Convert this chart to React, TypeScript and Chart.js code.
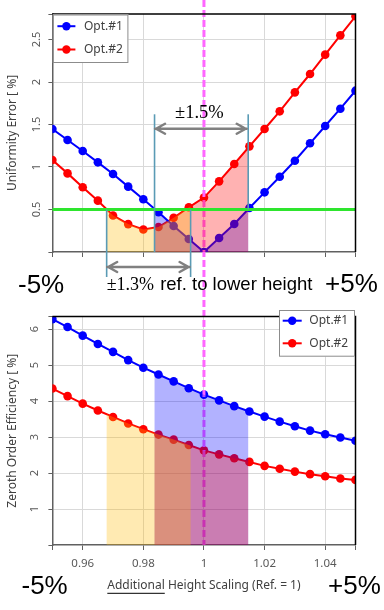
import React, { useEffect, useRef } from 'react';
import { Chart, registerables } from 'chart.js';

Chart.register(...registerables);

// ---------------- data ----------------
const xValues = [0.95, 0.955, 0.96, 0.965, 0.97, 0.975, 0.98, 0.985, 0.99, 0.995, 1.0, 1.005, 1.01, 1.015, 1.02, 1.025, 1.03, 1.035, 1.04, 1.045, 1.05];
const seriesLabels = ['Opt.#1', 'Opt.#2'];
const uniformityOpt1 = [1.447, 1.318, 1.188, 1.055, 0.918, 0.769, 0.62, 0.467, 0.306, 0.153, 0.0, 0.165, 0.329, 0.518, 0.702, 0.886, 1.074, 1.279, 1.482, 1.686, 1.898];
const uniformityOpt2 = [1.082, 0.925, 0.761, 0.604, 0.43, 0.328, 0.265, 0.294, 0.402, 0.526, 0.64, 0.831, 1.035, 1.243, 1.447, 1.655, 1.878, 2.094, 2.322, 2.549, 2.773];
const efficiencyOpt1 = [6.28, 6.06, 5.82, 5.59, 5.37, 5.14, 4.93, 4.74, 4.55, 4.36, 4.18, 4.02, 3.86, 3.71, 3.57, 3.43, 3.3, 3.18, 3.08, 2.99, 2.9];
const efficiencyOpt2 = [4.35, 4.14, 3.93, 3.74, 3.56, 3.38, 3.22, 3.07, 2.93, 2.78, 2.63, 2.52, 2.41, 2.31, 2.2, 2.12, 2.04, 1.97, 1.91, 1.85, 1.81];

const xRange = [0.95, 1.05];
const xTickValues = [0.96, 0.98, 1, 1.02, 1.04];
const xTickLabels = ['0.96', '0.98', '1', '1.02', '1.04'];
const uniformityRange = [0, 2.8];
const uniformityTickValues = [0.5, 1, 1.5, 2, 2.5];
const uniformityTickLabels = ['0.5', '1', '1.5', '2', '2.5'];
const efficiencyRange = [0, 6.35];
const efficiencyTickValues = [1, 2, 3, 4, 5, 6];
const efficiencyTickLabels = ['1', '2', '3', '4', '5', '6'];

const thresholdValue = 0.5;
const referenceValue = 1.0;
const rangeOpt1 = [0.9837, 1.0146]; // ±1.5 %
const rangeLower = [0.9679, 0.9956]; // ±1.3 %
const arrowLevel = 1.45;
const bracketTop = 1.62;

const yTitleTop = 'Uniformity Error [ %]';
const yTitleBottom = 'Zeroth Order Efficiency [ %]';
const xTitleBottom = 'Additional Height Scaling (Ref. = 1)';
const xTitleUnderlined = 'Additional';
const upperNote = '±1.5%';
const lowerNoteA = '±1.3%';
const lowerNoteB = ' ref. to lower height';
const leftEdgeNote = '-5%';
const rightEdgeNote = '+5%';

// ---------------- styles ----------------
const FONT = '"Noto Sans", sans-serif';
const BLUE = '#0000FF';
const RED = '#FF0000';
const GRID = '#D9D9D9';
const AXIS = '#606060';
const TICK_TEXT = '#595959';
const TITLE_TEXT = '#404040';

const bandsFill = [
  { dataset: 0, range: rangeOpt1, color: 'rgba(0,0,255,0.3)' },
  { dataset: 1, range: rangeOpt1, color: 'rgba(255,0,0,0.3)' },
  { dataset: 1, range: rangeLower, color: 'rgba(255,185,0,0.3)' },
];

function labelFor(v: number, values: number[], labels: string[]) {
  const i = values.findIndex((t) => Math.abs(t - v) < 1e-9);
  return i >= 0 ? labels[i] : '';
}

function edgeColor(range: number[]) {
  return (ctx: any) => {
    const v = ctx.tick ? ctx.tick.value : null;
    if (v === null) return GRID;
    return Math.abs(v - range[0]) < 1e-9 || Math.abs(v - range[1]) < 1e-9 ? 'rgba(0,0,0,0)' : GRID;
  };
}

function makeDatasets(y1: number[], y2: number[]) {
  const style = (c: string) => ({
    borderColor: c,
    backgroundColor: c,
    pointBackgroundColor: c,
    pointBorderColor: c,
    pointBorderWidth: 0,
    pointRadius: 4.3,
    borderWidth: 2,
    tension: 0,
    clip: 0,
    fill: false,
  });
  return [
    { label: seriesLabels[0], data: xValues.map((x, i) => ({ x, y: y1[i] })), ...style(BLUE) },
    { label: seriesLabels[1], data: xValues.map((x, i) => ({ x, y: y2[i] })), ...style(RED) },
  ];
}

function xScale(showLabels: boolean, height: number, title: string | null) {
  return {
    type: 'linear',
    min: xRange[0],
    max: xRange[1],
    afterBuildTicks: (s: any) => {
      s.ticks = [xRange[0], ...xTickValues, xRange[1]].map((v) => ({ value: v }));
    },
    afterFit: (s: any) => {
      s.height = height;
    },
    ticks: {
      display: showLabels,
      autoSkip: false,
      maxRotation: 0,
      minRotation: 0,
      padding: 6.5,
      color: TICK_TEXT,
      font: { family: FONT, size: 11.5 },
      callback: (v: number) => labelFor(v, xTickValues, xTickLabels),
    },
    grid: { color: edgeColor(xRange), tickColor: AXIS, tickLength: 5, lineWidth: 1 },
    border: { color: AXIS, width: 1.5 },
    title: title
      ? { display: true, text: title, color: TITLE_TEXT, font: { family: FONT, size: 12 }, padding: { top: 0, bottom: 17 } }
      : { display: false },
  };
}

function yScale(range: number[], tv: number[], tl: string[], title: string, pad: number) {
  return {
    type: 'linear',
    min: range[0],
    max: range[1],
    afterBuildTicks: (s: any) => {
      s.ticks = [range[0], ...tv, range[1]].map((v) => ({ value: v }));
    },
    afterFit: (s: any) => {
      s.width = 52.4;
    },
    ticks: {
      autoSkip: false,
      minRotation: 90,
      maxRotation: 90,
      crossAlign: 'center',
      padding: pad,
      color: TICK_TEXT,
      font: { family: FONT, size: 11 },
      callback: (v: number) => labelFor(v, tv, tl),
    },
    grid: { color: edgeColor(range), tickColor: AXIS, tickLength: 4, lineWidth: 1 },
    border: { color: AXIS, width: 1.5 },
    title: { display: true, text: title, color: TITLE_TEXT, font: { family: FONT, size: 12 }, padding: { top: 5, bottom: 0 } },
  };
}

// ---------------- drawing helpers ----------------
function fillBands(chart: any) {
  const { ctx, chartArea, scales } = chart;
  const base = scales.y.getPixelForValue(0);
  bandsFill.forEach((b) => {
    const pts = chart.getDatasetMeta(b.dataset).data;
    const x0 = scales.x.getPixelForValue(b.range[0]);
    const x1 = scales.x.getPixelForValue(b.range[1]);
    ctx.save();
    ctx.beginPath();
    ctx.rect(x0, chartArea.top, x1 - x0, base - chartArea.top);
    ctx.clip();
    ctx.beginPath();
    ctx.moveTo(pts[0].x, base);
    pts.forEach((p: any) => ctx.lineTo(p.x, p.y));
    ctx.lineTo(pts[pts.length - 1].x, base);
    ctx.closePath();
    ctx.fillStyle = b.color;
    ctx.fill();
    ctx.restore();
  });
}

function refLine(ctx: CanvasRenderingContext2D, x: number, y0: number, y1: number) {
  ctx.save();
  ctx.strokeStyle = '#FF66FF';
  ctx.lineWidth = 3;
  ctx.setLineDash([7, 3]);
  ctx.beginPath();
  ctx.moveTo(x, y0);
  ctx.lineTo(x, y1);
  ctx.stroke();
  ctx.restore();
}

function frame(chart: any) {
  const { ctx, chartArea: a } = chart;
  ctx.save();
  ctx.strokeStyle = '#000';
  ctx.lineWidth = 1.5;
  ctx.beginPath();
  ctx.moveTo(a.left, a.top);
  ctx.lineTo(a.right, a.top);
  ctx.lineTo(a.right, a.bottom);
  ctx.stroke();
  ctx.restore();
}

function legend(chart: any, bx: number, by: number, bw: number, bh: number, r0: number, gap: number, l0: number, l1: number, tx: number) {
  const { ctx } = chart;
  ctx.save();
  ctx.fillStyle = '#fff';
  ctx.fillRect(bx, by, bw, bh);
  ctx.strokeStyle = '#8C8C8C';
  ctx.lineWidth = 1;
  ctx.strokeRect(bx + 0.5, by + 0.5, bw - 1, bh - 1);
  chart.data.datasets.forEach((ds: any, i: number) => {
    const y = by + r0 + i * gap;
    ctx.strokeStyle = ds.borderColor;
    ctx.lineWidth = 2;
    ctx.beginPath();
    ctx.moveTo(bx + l0, y);
    ctx.lineTo(bx + l1, y);
    ctx.stroke();
    ctx.fillStyle = ds.borderColor;
    ctx.beginPath();
    ctx.arc(bx + (l0 + l1) / 2, y, 4.2, 0, Math.PI * 2);
    ctx.fill();
    ctx.fillStyle = TITLE_TEXT;
    ctx.font = `12px ${FONT}`;
    ctx.textBaseline = 'middle';
    ctx.textAlign = 'left';
    ctx.fillText(ds.label, bx + tx, y);
  });
  ctx.restore();
}

function vline(ctx: CanvasRenderingContext2D, x: number, y0: number, y1: number) {
  ctx.save();
  ctx.strokeStyle = '#5A9BB5';
  ctx.lineWidth = 1.6;
  ctx.beginPath();
  ctx.moveTo(x, y0);
  ctx.lineTo(x, y1);
  ctx.stroke();
  ctx.restore();
}

function arrow(ctx: CanvasRenderingContext2D, x0: number, x1: number, y: number) {
  ctx.save();
  ctx.strokeStyle = '#808080';
  ctx.lineWidth = 2.5;
  ctx.lineCap = 'round';
  ctx.lineJoin = 'round';
  ctx.beginPath();
  ctx.moveTo(x0, y);
  ctx.lineTo(x1, y);
  ctx.moveTo(x0 + 10, y - 5);
  ctx.lineTo(x0 + 1, y);
  ctx.lineTo(x0 + 10, y + 5);
  ctx.moveTo(x1 - 10, y - 5);
  ctx.lineTo(x1 - 1, y);
  ctx.lineTo(x1 - 10, y + 5);
  ctx.stroke();
  ctx.restore();
}

function text(ctx: CanvasRenderingContext2D, s: string, x: number, y: number, font: string, align: CanvasTextAlign = 'left') {
  ctx.save();
  ctx.fillStyle = '#000';
  ctx.font = font;
  ctx.textAlign = align;
  ctx.textBaseline = 'alphabetic';
  ctx.fillText(s, x, y);
  ctx.restore();
}

const SERIF = '"Liberation Serif", "DejaVu Serif", serif';
const SANS = '"Liberation Sans", Arial, sans-serif';

const topAnnotations = {
  id: 'topAnnotations',
  afterDatasetsDraw(chart: any) {
    const { ctx, chartArea: a, scales } = chart;
    const px = (v: number) => scales.x.getPixelForValue(v);
    const py = (v: number) => scales.y.getPixelForValue(v);
    refLine(ctx, px(referenceValue), 0, chart.height);
    fillBands(chart);
    ctx.save();
    ctx.strokeStyle = '#2EE52E';
    ctx.lineWidth = 3;
    ctx.beginPath();
    ctx.moveTo(a.left, py(thresholdValue));
    ctx.lineTo(a.right, py(thresholdValue));
    ctx.stroke();
    ctx.restore();
    vline(ctx, px(rangeOpt1[0]), py(bracketTop), py(0));
    vline(ctx, px(rangeOpt1[1]), py(bracketTop), py(thresholdValue));
    vline(ctx, px(rangeLower[0]), py(thresholdValue), a.bottom + 25);
    vline(ctx, px(rangeLower[1]), py(thresholdValue), a.bottom + 25);
    arrow(ctx, px(rangeOpt1[0]) + 0.5, px(rangeOpt1[1]) - 1.5, py(arrowLevel));
    arrow(ctx, px(rangeLower[0]) + 0.5, px(rangeLower[1]) - 1, a.bottom + 15);
    frame(chart);
    text(ctx, upperNote, (px(rangeOpt1[0]) + px(rangeOpt1[1])) / 2 - 2, py(arrowLevel) - 10.5, `18.5px ${SERIF}`, 'center');
    const lx = px(rangeLower[0]);
    text(ctx, lowerNoteA, lx, a.bottom + 38, `18px ${SERIF}`);
    ctx.save();
    ctx.font = `18px ${SERIF}`;
    const wA = ctx.measureText(lowerNoteA).width;
    ctx.restore();
    text(ctx, lowerNoteB, lx + wA + 1, a.bottom + 38, `18.5px ${SANS}`);
    text(ctx, leftEdgeNote, 18, a.bottom + 41, `26px ${SANS}`);
    text(ctx, rightEdgeNote, 325, a.bottom + 40, `26px ${SANS}`);
    legend(chart, a.left + 0.5, a.top + 0.5, 75.5, 48.5, 11.7, 23.3, 4.5, 22.5, 31);
  },
};

const bottomAnnotations = {
  id: 'bottomAnnotations',
  afterDatasetsDraw(chart: any) {
    const { ctx, chartArea: a, scales } = chart;
    const px = (v: number) => scales.x.getPixelForValue(v);
    refLine(ctx, px(referenceValue), 0, a.bottom);
    fillBands(chart);
    frame(chart);
    legend(chart, 279, 10, 76, 46.7, 10.7, 22.6, 3.7, 22.7, 30.3);
    text(ctx, leftEdgeNote, 21.5, 294, `26px ${SANS}`);
    text(ctx, rightEdgeNote, 328, 293.5, `26px ${SANS}`);
  },
  afterDraw(chart: any) {
    const { ctx, chartArea: a } = chart;
    const xs = chart.scales.x;
    ctx.save();
    ctx.font = `12px ${FONT}`;
    const full = ctx.measureText(xTitleBottom).width;
    const part = ctx.measureText(xTitleUnderlined).width;
    const cx = (a.left + a.right) / 2;
    const cy = xs.bottom - 7.2 - 17;
    const sx = cx - full / 2;
    ctx.strokeStyle = '#000';
    ctx.lineWidth = 1;
    ctx.beginPath();
    ctx.moveTo(sx, cy + 7.5);
    ctx.lineTo(sx + part, cy + 7.5);
    ctx.stroke();
    ctx.restore();
  },
};

function topConfig(): any {
  return {
    type: 'line',
    data: { datasets: makeDatasets(uniformityOpt1, uniformityOpt2) },
    options: {
      responsive: false,
      animation: false,
      devicePixelRatio: 1,
      events: [],
      layout: { padding: { left: 0, right: 28.5, top: 14, bottom: 0 } },
      plugins: { legend: { display: false }, tooltip: { enabled: false } },
      scales: {
        x: xScale(false, 48, null),
        y: yScale(uniformityRange, uniformityTickValues, uniformityTickLabels, yTitleTop, 3.5),
      },
    },
    plugins: [topAnnotations],
  };
}

function bottomConfig(): any {
  return {
    type: 'line',
    data: { datasets: makeDatasets(efficiencyOpt1, efficiencyOpt2) },
    options: {
      responsive: false,
      animation: false,
      devicePixelRatio: 1,
      events: [],
      layout: { padding: { left: 0, right: 28.5, top: 7.3, bottom: 0 } },
      plugins: { legend: { display: false }, tooltip: { enabled: false } },
      scales: {
        x: xScale(true, 65, xTitleBottom),
        y: yScale(efficiencyRange, efficiencyTickValues, efficiencyTickLabels, yTitleBottom, 10),
      },
    },
    plugins: [bottomAnnotations],
  };
}

export default function App() {
  const topRef = useRef<HTMLCanvasElement>(null);
  const bottomRef = useRef<HTMLCanvasElement>(null);
  useEffect(() => {
    const c1 = new Chart(topRef.current as HTMLCanvasElement, topConfig());
    const c2 = new Chart(bottomRef.current as HTMLCanvasElement, bottomConfig());
    return () => {
      c1.destroy();
      c2.destroy();
    };
  }, []);
  return (
    <div style={{ position: 'absolute', left: 0, top: 0, width: 384, height: 610, background: '#fff' }}>
      <canvas ref={topRef} width={384} height={300} style={{ display: 'block', width: 384, height: 300 }} />
      <canvas ref={bottomRef} width={384} height={310} style={{ display: 'block', width: 384, height: 310 }} />
    </div>
  );
}
